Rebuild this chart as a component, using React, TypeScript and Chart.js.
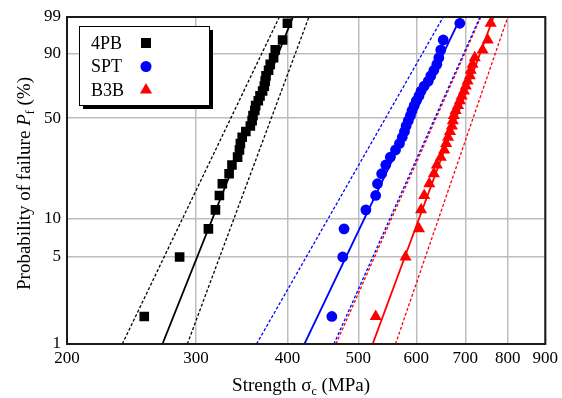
import React, { useEffect, useRef } from 'react';
import { Chart, registerables } from 'chart.js';

Chart.register(...registerables);

// Plotting positions (%) of the 30 ranked specimens
const probabilities = [
  1.67, 5.0, 8.33, 11.67, 15.0, 18.33, 21.67, 25.0, 28.33, 31.67,
  35.0, 38.33, 41.67, 45.0, 48.33, 51.67, 55.0, 58.33, 61.67, 65.0,
  68.33, 71.67, 75.0, 78.33, 81.67, 85.0, 88.33, 91.67, 95.0, 98.33,
];

// Strength values (MPa)
const strength4PB = [
  255, 285, 312, 319, 323, 326, 333, 336, 342, 344,
  345, 347, 351, 356, 358, 359, 361, 362, 365, 367,
  370, 372, 373, 374, 377, 379, 383, 385, 394, 400,
];
const strengthSPT = [
  460, 476, 478, 512, 528, 531, 538, 545, 553, 562,
  569, 574, 578, 581, 585, 589, 592, 596, 600, 605,
  609, 615, 623, 628, 634, 640, 644, 648, 653, 688,
];
const strengthB3B = [
  528, 580, 605, 609, 615, 625, 634, 640, 648, 655,
  659, 663, 667, 671, 673, 675, 679, 684, 688, 692,
  697, 701, 705, 710, 712, 716, 721, 739, 751, 758,
];

// Weibull fit lines and confidence bounds: strength at P = 1 % and 99 %
const lineProb = [1, 99];
const fit4PB = [270, 407];
const lower4PB = [238, 390];
const upper4PB = [292, 428];
const fitSPT = [422, 690];
const lowerSPT = [363, 653];
const upperSPT = [463, 733];
const fitB3B = [523, 765];
const lowerB3B = [466, 735];
const upperB3B = [562, 800];

const seriesLabels = ['4PB', 'SPT', 'B3B'];
const seriesColors = ['#000000', '#0000ff', '#ff0000'];
const xTicks = [200, 300, 400, 500, 600, 700, 800, 900];
const yTickPercents = [1, 5, 10, 50, 90, 99];

const weib = (p: number) => Math.log(-Math.log(1 - p / 100));
const SERIF = '"Liberation Serif", "Times New Roman", serif';

const pts = (xs: number[], ps: number[]) => xs.map((x, i) => ({ x, y: weib(ps[i]) }));

function drawMarker(ctx: CanvasRenderingContext2D, style: string, x: number, y: number, color: string) {
  ctx.fillStyle = color;
  ctx.beginPath();
  if (style === 'rect') {
    ctx.rect(x - 5, y - 5, 10, 10);
  } else if (style === 'circle') {
    ctx.arc(x, y, 5.5, 0, Math.PI * 2);
  } else {
    const r = 7;
    ctx.moveTo(x, y - r);
    ctx.lineTo(x + r * 0.866, y + r * 0.5);
    ctx.lineTo(x - r * 0.866, y + r * 0.5);
    ctx.closePath();
  }
  ctx.fill();
}

type Part = { t: string; font: string; dy?: number };
function drawRich(ctx: CanvasRenderingContext2D, parts: Part[], cx: number, y: number) {
  let total = 0;
  const widths = parts.map((p) => {
    ctx.font = p.font;
    const w = ctx.measureText(p.t).width;
    total += w;
    return w;
  });
  let cur = cx - total / 2;
  parts.forEach((p, i) => {
    ctx.font = p.font;
    ctx.fillText(p.t, cur, y + (p.dy || 0));
    cur += widths[i];
  });
}

const decorPlugin = {
  id: 'decor',
  afterDatasetsDraw(chart: any) {
    const { ctx, chartArea } = chart;
    const { left, top, right, bottom } = chartArea;
    ctx.save();
    // frame
    ctx.strokeStyle = '#1a1a1a';
    ctx.lineWidth = 2;
    ctx.strokeRect(left, top, right - left, bottom - top);

    // legend
    const lx = left + 12;
    const ly = top + 9;
    const lw = 130;
    const lh = 79;
    ctx.fillStyle = '#000';
    ctx.fillRect(lx + 4, ly + 4, lw, lh);
    ctx.fillStyle = '#fff';
    ctx.fillRect(lx, ly, lw, lh);
    ctx.strokeStyle = '#000';
    ctx.lineWidth = 1;
    ctx.strokeRect(lx + 0.5, ly + 0.5, lw, lh);
    const styles = ['rect', 'circle', 'triangle'];
    ctx.textBaseline = 'middle';
    ctx.textAlign = 'left';
    seriesLabels.forEach((lab, i) => {
      const ry = ly + 17 + i * 23.5;
      ctx.fillStyle = '#000';
      ctx.font = `18px ${SERIF}`;
      ctx.fillText(lab, lx + 12, ry + 1);
      drawMarker(ctx, styles[i], lx + 67, ry, seriesColors[i]);
    });

    // axis titles
    ctx.fillStyle = '#000';
    ctx.textBaseline = 'alphabetic';
    const big = `19px ${SERIF}`;
    const small = `12px ${SERIF}`;
    drawRich(
      ctx,
      [
        { t: 'Strength \u03c3', font: big },
        { t: 'c', font: small, dy: 4 },
        { t: ' (MPa)', font: big },
      ],
      (left + right) / 2 - 5,
      391
    );
    ctx.save();
    ctx.translate(30, (top + bottom) / 2 + 3);
    ctx.rotate(-Math.PI / 2);
    drawRich(
      ctx,
      [
        { t: 'Probability of failure ', font: big },
        { t: 'P', font: `italic 19px ${SERIF}` },
        { t: 'f', font: small, dy: 4 },
        { t: ' (%)', font: big },
      ],
      0,
      0
    );
    ctx.restore();
    ctx.restore();
  },
};

export default function App() {
  const ref = useRef<HTMLCanvasElement | null>(null);

  useEffect(() => {
    document.body.style.margin = '0';
    if (!ref.current) return;
    Chart.defaults.font.family = SERIF;

    const lineDs = (label: string, xs: number[], color: string, dashed: boolean) => ({
      label,
      data: pts(xs, lineProb),
      showLine: true,
      borderColor: color,
      borderWidth: dashed ? 1.3 : 1.8,
      borderDash: dashed ? [3, 2] : [],
      pointRadius: 0,
      fill: false,
    });

    const chart = new Chart(ref.current, {
      type: 'scatter',
      data: {
        datasets: [
          {
            label: seriesLabels[0],
            data: pts(strength4PB, probabilities),
            pointStyle: 'rect',
            pointRadius: 6.8,
            backgroundColor: seriesColors[0],
            borderColor: seriesColors[0],
            borderWidth: 0,
          },
          {
            label: seriesLabels[1],
            data: pts(strengthSPT, probabilities),
            pointStyle: 'circle',
            pointRadius: 5.4,
            backgroundColor: seriesColors[1],
            borderColor: seriesColors[1],
            borderWidth: 0,
          },
          {
            label: seriesLabels[2],
            data: pts(strengthB3B, probabilities),
            pointStyle: 'triangle',
            pointRadius: 7,
            backgroundColor: seriesColors[2],
            borderColor: seriesColors[2],
            borderWidth: 0,
          },
          lineDs('4PB fit', fit4PB, seriesColors[0], false),
          lineDs('4PB lower', lower4PB, seriesColors[0], true),
          lineDs('4PB upper', upper4PB, seriesColors[0], true),
          lineDs('SPT fit', fitSPT, seriesColors[1], false),
          lineDs('SPT lower', lowerSPT, seriesColors[1], true),
          lineDs('SPT upper', upperSPT, seriesColors[1], true),
          lineDs('B3B fit', fitB3B, seriesColors[2], false),
          lineDs('B3B lower', lowerB3B, seriesColors[2], true),
          lineDs('B3B upper', upperB3B, seriesColors[2], true),
        ] as any,
      },
      options: {
        animation: false,
        responsive: false,
        events: [],
        layout: { padding: { left: 0, top: 17, right: 13, bottom: 0 } },
        plugins: { legend: { display: false }, tooltip: { enabled: false } },
        scales: {
          x: {
            type: 'logarithmic',
            min: 200,
            max: 900,
            afterBuildTicks: (scale: any) => {
              scale.ticks = xTicks.map((v) => ({ value: v }));
            },
            afterFit: (scale: any) => {
              scale.height = 54;
            },
            ticks: {
              autoSkip: false,
              maxRotation: 0,
              padding: 4,
              color: '#000',
              font: { size: 17, family: SERIF },
              callback: (v: any) => String(v),
            },
            grid: { color: '#bdbdbd', lineWidth: 1.5, drawTicks: false },
            border: { display: false },
          },
          y: {
            type: 'linear',
            min: weib(1),
            max: weib(99),
            afterBuildTicks: (scale: any) => {
              scale.ticks = yTickPercents.map((p) => ({ value: weib(p) }));
            },
            afterFit: (scale: any) => {
              scale.width = 67;
            },
            ticks: {
              autoSkip: false,
              padding: 6,
              color: '#000',
              font: { size: 17, family: SERIF },
              callback: (v: any) => String(Math.round(100 * (1 - Math.exp(-Math.exp(v))))),
            },
            grid: { color: '#bdbdbd', lineWidth: 1.5, drawTicks: false },
            border: { display: false },
          },
        },
      } as any,
      plugins: [decorPlugin],
    });
    return () => chart.destroy();
  }, []);

  return (
    <div style={{ width: 562, height: 398 }}>
      <canvas ref={ref} width={562} height={398} />
    </div>
  );
}
